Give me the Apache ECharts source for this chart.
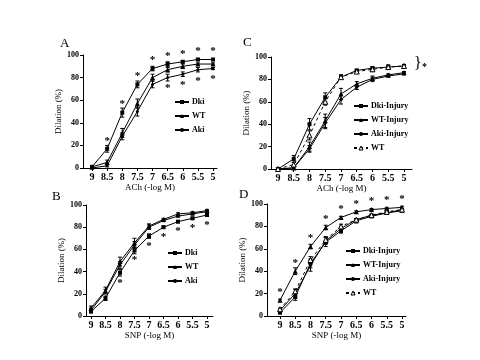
<!DOCTYPE html>
<html><head><meta charset="utf-8">
<script src="https://cdn.jsdelivr.net/npm/echarts@6/dist/echarts.min.js"></script>
<style>html,body{margin:0;padding:0;background:#fff}#c{width:480px;height:360px}</style>
</head><body><div id="c"></div>
<script>
// ---------- data ----------
const xs = [9, 8.5, 8, 7.5, 7, 6.5, 6, 5.5, 5];
const xTickLabels = ['9','8.5','8','7.5','7','6.5','6','5.5','5'];
const yTicks = [0, 20, 40, 60, 80, 100];

// Panel A (ACh)
const aDki = [1, 17, 49, 74, 88, 92, 94, 96, 96];
const aWT  = [1, 5, 31, 57, 80, 87, 90, 92, 92];
const aAki = [0, 2, 28, 50, 74, 80, 83, 87, 88];
const aDkiErr = [1, 3, 4, 3, 2, 2, 1, 1, 1];
const aWTErr  = [1, 2, 4, 4, 3, 2, 2, 1, 1];
const aAkiErr = [1, 1, 3, 4, 3, 3, 2, 2, 1];
const aStarAbove = [1, 2, 3, 4, 5, 6, 7, 8];
const aStarBelow = [5, 6, 7, 8];

// Panel C (ACh, injury)
const cDkiInj = [0, 9, 40, 64, 82, 88, 90, 91, 92];
const cWTInj  = [0, 1, 20, 43, 67, 76, 81, 84, 86];
const cAkiInj = [0, 1, 18, 41, 62, 73, 80, 83, 85];
const cWT     = [0, 4, 30, 60, 82, 87, 89, 91, 92];
const cDkiErr = [1, 3, 5, 4, 2, 1, 1, 1, 1];
const cWTInjErr = [1, 1, 4, 6, 5, 2, 2, 1, 1];
const cAkiErr = [1, 1, 3, 5, 4, 2, 2, 1, 1];
const cWTErr  = [1, 2, 4, 3, 2, 1, 2, 2, 1];

// Panel B (SNP)
const bDki = [4, 16, 39, 59, 72, 80, 85, 88, 91];
const bWT  = [7, 23, 49, 66, 81, 87, 92, 93, 95];
const bAki = [5, 22, 46, 64, 80, 86, 90, 92, 94];
const bDkiErr = [1, 2, 3, 3, 2, 1, 1, 1, 1];
const bWTErr  = [2, 3, 4, 4, 2, 1, 1, 1, 1];
const bAkiErr = [2, 2, 3, 3, 2, 1, 1, 1, 1];
const bStarBelow = [2, 3, 4, 5, 6, 7, 8];

// Panel D (SNP, injury)
const dDkiInj = [3, 17, 47, 66, 76, 85, 89, 92, 94];
const dWTInj  = [14, 40, 62, 79, 88, 93, 95, 96, 97];
const dAkiInj = [5, 20, 45, 67, 78, 86, 90, 92, 95];
const dWT     = [6, 22, 50, 68, 80, 86, 90, 93, 95];
const dDkiErr = [1, 3, 4, 4, 2, 2, 1, 1, 1];
const dWTInjErr = [1, 3, 2, 2, 1, 1, 1, 1, 1];
const dAkiErr = [1, 4, 5, 3, 2, 1, 1, 1, 1];
const dWTErr  = [1, 2, 3, 3, 2, 1, 1, 1, 1];
const dStarAbove = [0, 1, 2, 3, 4, 5, 6, 7, 8];

// ---------- layout ----------
const SERIF = '"Liberation Serif","DejaVu Serif",serif';
const panels = [
  {grid:{left:83, top:55, width:134, height:113}, xmin:4.868, xmax:9.298, xname:'ACh (-log M)'},
  {grid:{left:271, top:57, width:141, height:112}, xmin:4.746, xmax:9.222, xname:'ACh (-log M)'},
  {grid:{left:86, top:205, width:127, height:111}, xmin:4.793, xmax:9.172, xname:'SNP (-log M)'},
  {grid:{left:267, top:204, width:139, height:112}, xmin:4.869, xmax:9.426, xname:'SNP (-log M)'}
];

const grid = panels.map(p => Object.assign({containLabel:false}, p.grid));
const xAxis = panels.map((p, i) => ({
  type:'value', gridIndex:i, inverse:true, min:p.xmin, max:p.xmax,
  name:p.xname, nameLocation:'middle', nameGap:13,
  nameTextStyle:{fontFamily:SERIF, fontSize:9, color:'#000'},
  splitLine:{show:false},
  axisLine:{onZero:false, lineStyle:{color:'#000', width:1}},
  axisTick:{show:true, inside:false, length:3, customValues:xs, lineStyle:{color:'#000'}},
  axisLabel:{customValues:xs, margin:4, fontFamily:SERIF, fontSize:10, fontWeight:'bold', color:'#000',
    formatter: v => xTickLabels[xs.indexOf(v)] !== undefined ? xTickLabels[xs.indexOf(v)] : String(v)}
}));
const yAxis = panels.map((p, i) => ({
  type:'value', gridIndex:i, min:0, max:100, interval:20,
  name:'Dilation (%)', nameLocation:'middle', nameGap:14,
  nameTextStyle:{fontFamily:SERIF, fontSize:9, color:'#000'},
  splitLine:{show:false},
  axisLine:{show:true, lineStyle:{color:'#000', width:1}},
  axisTick:{show:true, inside:false, length:3, lineStyle:{color:'#000'}},
  axisLabel:{margin:4, fontFamily:SERIF, fontSize:8, fontWeight:'bold', color:'#000'}
}));

const series = [];
function lineSeries(name, vals, errs, gi, symbol, size, dashed) {
  series.push({
    name, type:'line', xAxisIndex:gi, yAxisIndex:gi,
    data: xs.map((x, i) => [x, vals[i]]),
    symbol, symbolSize:size, showSymbol:true,
    lineStyle:{color:'#000', width:1, type: dashed ? [3, 3] : 'solid'},
    itemStyle: dashed ? {color:'#fff', borderColor:'#000', borderWidth:1}
                      : {color:'#000', borderColor:'#000', borderWidth:0},
    z:3, animation:false
  });
  series.push({
    type:'custom', xAxisIndex:gi, yAxisIndex:gi, silent:true, z:2, animation:false,
    data: xs.map((x, i) => [x, vals[i], errs[i]]),
    renderItem: (params, api) => {
      const x = api.value(0), y = api.value(1), e = api.value(2);
      const top = api.coord([x, y + e]), bot = api.coord([x, y - e]);
      const st = {stroke:'#000', lineWidth:1};
      return {type:'group', children:[
        {type:'line', shape:{x1:top[0], y1:top[1], x2:bot[0], y2:bot[1]}, style:st},
        {type:'line', shape:{x1:top[0]-2, y1:top[1], x2:top[0]+2, y2:top[1]}, style:st},
        {type:'line', shape:{x1:bot[0]-2, y1:bot[1], x2:bot[0]+2, y2:bot[1]}, style:st}
      ]};
    }
  });
}
function stars(vals, idx, gi, dy) {
  series.push({
    type:'custom', xAxisIndex:gi, yAxisIndex:gi, silent:true, z:4, animation:false,
    data: idx.map(i => [xs[i], vals[i]]),
    renderItem: (params, api) => {
      const p = api.coord([api.value(0), api.value(1)]);
      return {type:'text', x:p[0], y:p[1] + dy,
        style:{text:'*', fill:'#000', font:'bold 11px ' + SERIF, textAlign:'center', textVerticalAlign:'middle'}};
    }
  });
}

// A
lineSeries('A|Dki', aDki, aDkiErr, 0, 'rect', 4);
lineSeries('A|WT', aWT, aWTErr, 0, 'triangle', 5);
lineSeries('A|Aki', aAki, aAkiErr, 0, 'circle', 3);
stars(aDki, aStarAbove, 0, -8);
stars(aAki, aStarBelow, 0, 11);
// C
lineSeries('C|Dki-Injury', cDkiInj, cDkiErr, 1, 'rect', 4);
lineSeries('C|WT-Injury', cWTInj, cWTInjErr, 1, 'triangle', 5);
lineSeries('C|Aki-Injury', cAkiInj, cAkiErr, 1, 'circle', 3);
lineSeries('C|WT', cWT, cWTErr, 1, 'triangle', 5, true);
// B
lineSeries('B|Dki', bDki, bDkiErr, 2, 'rect', 4);
lineSeries('B|WT', bWT, bWTErr, 2, 'triangle', 5);
lineSeries('B|Aki', bAki, bAkiErr, 2, 'circle', 3);
stars(bDki, bStarBelow, 2, 10);
// D
lineSeries('D|Dki-Injury', dDkiInj, dDkiErr, 3, 'rect', 4);
lineSeries('D|WT-Injury', dWTInj, dWTInjErr, 3, 'triangle', 5);
lineSeries('D|Aki-Injury', dAkiInj, dAkiErr, 3, 'circle', 3);
lineSeries('D|WT', dWT, dWTErr, 3, 'triangle', 5, true);
stars(dWTInj, dStarAbove, 3, -8);

function legend(names, left, top) {
  return {
    data: names.map(n => n.endsWith('|WT') && (n[0] === 'C' || n[0] === 'D')
      ? {name:n, itemStyle:{color:'#fff', borderColor:'#000', borderWidth:1}, lineStyle:{color:'#000', type:[3,3]}}
      : {name:n}),
    orient:'vertical', left, top, itemWidth:14, itemHeight:5, itemGap:6,
    selectedMode:false, padding:0,
    formatter: n => n.split('|')[1],
    textStyle:{fontFamily:SERIF, fontSize:8, fontWeight:'bold', color:'#000', padding:[0,0,0,-2]}};
}
const legends = [
  legend(['A|Dki','A|WT','A|Aki'], 174, 98),
  legend(['C|Dki-Injury','C|WT-Injury','C|Aki-Injury','C|WT'], 353, 102),
  legend(['B|Dki','B|WT','B|Aki'], 167, 249),
  legend(['D|Dki-Injury','D|WT-Injury','D|Aki-Injury','D|WT'], 345, 247)
];

const panelLabel = (t, x, y) => ({type:'text', left:x, top:y,
  style:{text:t, font:'13px ' + SERIF, fill:'#000'}});
const graphic = [
  panelLabel('A', 60, 37), panelLabel('C', 243, 36),
  panelLabel('B', 52, 190), panelLabel('D', 239, 188),
  {type:'text', left:414, top:56, style:{text:'}', font:'16px ' + SERIF, fill:'#000'}},
  {type:'text', left:422, top:62, style:{text:'*', font:'bold 10px ' + SERIF, fill:'#000'}}
];

const chart = echarts.init(document.getElementById('c'), null, {renderer:'canvas'});
chart.setOption({
  animation:false, backgroundColor:'#fff',
  grid, xAxis, yAxis, series, legend:legends, graphic
});
</script>
</body></html>
